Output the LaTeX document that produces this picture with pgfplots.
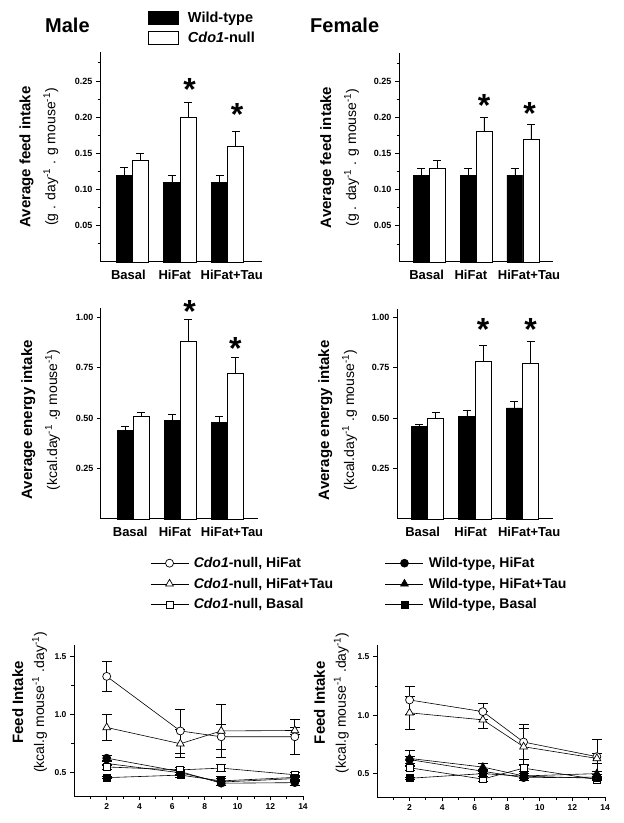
\documentclass[border=0pt]{standalone}
\usepackage{fontspec}
\setmainfont{Liberation Sans}
\usepackage{pgfplots}
\pgfplotsset{compat=1.18}
\newcommand\fsz[1]{\fontsize{#1}{#1}\selectfont}
\tikzset{starnode/.style={font=\fontsize{32}{32}\selectfont\bfseries, anchor=base, yshift=-17.5pt, inner sep=0pt}}
\pgfplotsset{
  common/.style={
    scale only axis, anchor=south west, clip=false,
    axis lines=left, axis line style={-, line width=1pt},
    tick align=outside, major tick length=4pt, minor tick length=2.5pt,
    every tick/.style={black, line width=0.8pt},
    /pgf/number format/assume math mode=true,
  },
  barax/.style={
    common,
    xmin=-0.68, xmax=2.72, ymin=0,
    xticklabels={Basal,HiFat,HiFat+Tau},
    x tick style={draw=none}, major x tick style={draw=none},
    xticklabel style={font=\fontsize{13}{14}\selectfont\bfseries, yshift=-1pt},
    yticklabel style={font=\fontsize{9}{10}\selectfont\bfseries, /pgf/number format/.cd, fixed, fixed zerofill, precision=2, assume math mode=true},
    ylabel style={align=center, font=\fontsize{14}{25}\selectfont, anchor=center},
  },
  barerr/.style={error bars/y dir=plus, error bars/y explicit,
    error bars/error mark=-,
    error bars/error bar style={line width=0.8pt, black},
    error bars/error mark options={rotate=90, mark size=4pt, line width=0.8pt, black}},
  wt/.style={ybar, bar shift=0pt, bar width=0.34, fill=black, draw=black, line width=0.8pt, barerr},
  ko/.style={ybar, bar shift=0pt, bar width=0.34, fill=white, draw=black, line width=0.8pt, barerr},
  lineax/.style={
    common,
    xmin=0, xmax=14, ymin=0.3, ymax=1.6,
    xtick={2,4,...,14}, minor xtick={1,3,...,13},
    ytick={0.5,1.0,1.5}, minor ytick={0.75,1.25},
    xticklabel style={font=\fontsize{8.5}{9}\selectfont\bfseries},
    yticklabel style={font=\fontsize{8.5}{9}\selectfont\bfseries, /pgf/number format/.cd, fixed, fixed zerofill, precision=1, assume math mode=true},
    ylabel style={align=center, font=\fontsize{14}{21}\selectfont, anchor=center},
  },
  ln/.style={black, line width=0.6pt, mark size=#1,
    error bars/y dir=both, error bars/y explicit,
    error bars/error mark=-,
    error bars/error bar style={line width=0.7pt, black},
    error bars/error mark options={rotate=90, mark size=5pt, line width=0.7pt, black}},
  opn/.style={mark options={fill=white, draw=black, solid, line width=0.7pt}},
  fld/.style={mark options={fill=black, draw=black, solid}},
}
\begin{document}
\begin{tikzpicture}
\useasboundingbox (0pt,0pt) rectangle (624pt,823pt);

\node[anchor=base west, font=\fsz{20}\bfseries, inner sep=0pt] at (45pt,790pt) {Male};
\node[anchor=base west, font=\fsz{20}\bfseries, inner sep=0pt] at (310pt,790pt) {Female};

% ---------------- top left
\begin{axis}[barax, at={(100pt,561pt)}, width=162pt, height=210pt, ymax=0.29,
  xtick={-0.085,0.89,2.085},
  ytick={0.05,0.10,...,0.26}, minor ytick={0.025,0.075,...,0.28},
  ylabel={{\fontsize{15}{25}\selectfont\bfseries Average feed intake}\\(g . day\textsuperscript{-1} . g mouse\textsuperscript{-1})},
  ylabel style={at={(axis description cs:-0.377,0.5)}},
  legend style={at={(0.296,1.2)}, anchor=north west, draw=none, fill=none, inner sep=0pt,
    font=\fontsize{14.5}{15}\selectfont\bfseries, row sep=4pt},
  legend cell align=left,
  legend image code/.code={\draw[#1, line width=0.8pt] (0pt,-6.5pt) rectangle (30pt,6.5pt); \path (37pt,0pt);},
]
\addplot[wt] coordinates {(-0.17,0.12) +- (0,0.01) (0.83,0.11) +- (0,0.01) (1.83,0.11) +- (0,0.01)};
\addplot[ko] coordinates {(0.17,0.14) +- (0,0.01) (1.17,0.20) +- (0,0.02) (2.17,0.16) +- (0,0.02)};
\legend{Wild-type, \textit{Cdo1}-null}
\node[starnode] at (axis cs:1.2,0.247) {*};
\node[starnode] at (axis cs:2.2,0.2125) {*};
\end{axis}

% ---------------- top right
\begin{axis}[barax, at={(399pt,561pt)}, width=154pt, height=209pt, ymax=0.289,
  xmin=-0.64, xmax=2.64, xtick={-0.05,0.89,2.13},
  ytick={0.05,0.10,...,0.26}, minor ytick={0.025,0.075,...,0.28},
  ylabel={{\fontsize{15}{25}\selectfont\bfseries Average feed intake}\\(g . day\textsuperscript{-1} . g mouse\textsuperscript{-1})},
  ylabel style={at={(axis description cs:-0.386,0.5)}},
]
\addplot[wt] coordinates {(-0.17,0.12) +- (0,0.01) (0.83,0.12) +- (0,0.01) (1.83,0.12) +- (0,0.01)};
\addplot[ko] coordinates {(0.17,0.13) +- (0,0.01) (1.17,0.18) +- (0,0.02) (2.17,0.17) +- (0,0.02)};
\node[starnode] at (axis cs:1.17,0.226) {*};
\node[starnode] at (axis cs:2.14,0.215) {*};
\end{axis}

% ---------------- middle left
\begin{axis}[barax, at={(101pt,304pt)}, width=157pt, height=211pt, ymax=1.045,
  xmax=2.65, xtick={-0.06,0.89,2.1},
  ytick={0.25,0.50,0.75,1.00},
  ylabel={{\fontsize{15}{25}\selectfont\bfseries Average energy intake}\\(kcal.day\textsuperscript{-1} .g mouse\textsuperscript{-1})},
  ylabel style={at={(axis description cs:-0.385,0.47)}},
]
\addplot[wt] coordinates {(-0.17,0.44) +- (0,0.02) (0.83,0.49) +- (0,0.03) (1.83,0.48) +- (0,0.03)};
\addplot[ko] coordinates {(0.17,0.51) +- (0,0.02) (1.17,0.88) +- (0,0.11) (2.17,0.72) +- (0,0.08)};
\node[starnode] at (axis cs:1.2,1.06) {*};
\node[starnode] at (axis cs:2.17,0.878) {*};
\end{axis}

% ---------------- middle right
\begin{axis}[barax, at={(397pt,304pt)}, width=156pt, height=210pt, ymax=1.04,
  xmin=-0.64, xmax=2.64, xtick={-0.1,0.91,2.14},
  ytick={0.25,0.50,0.75,1.00},
  ylabel={{\fontsize{15}{25}\selectfont\bfseries Average energy intake}\\(kcal.day\textsuperscript{-1} .g mouse\textsuperscript{-1})},
  ylabel style={at={(axis description cs:-0.38,0.47)}},
]
\addplot[wt] coordinates {(-0.17,0.46) +- (0,0.01) (0.83,0.51) +- (0,0.03) (1.83,0.55) +- (0,0.03)};
\addplot[ko] coordinates {(0.17,0.50) +- (0,0.03) (1.17,0.78) +- (0,0.08) (2.17,0.77) +- (0,0.11)};
\node[starnode] at (axis cs:1.17,0.97) {*};
\node[starnode] at (axis cs:2.17,0.97) {*};
\end{axis}

% ---------------- bottom left
\begin{axis}[lineax, at={(74pt,27pt)}, width=229pt, height=151pt,
  ylabel={{\fontsize{15}{21}\selectfont\bfseries Feed Intake}\\(kcal.g mouse\textsuperscript{-1} .day\textsuperscript{-1})},
  ylabel style={at={(axis description cs:-0.194,0.62)}},
  legend columns=2,
  legend style={at={(0.332,1.595)}, anchor=north west, draw=none, fill=none, inner sep=0pt,
    font=\fontsize{14}{14}\selectfont\bfseries, row sep=5pt,
    /tikz/every even column/.append style={column sep=50pt}},
  legend cell align=left,
  legend image code/.code={\draw[mark repeat=2,mark phase=2,#1] plot coordinates {(0pt,0pt) (19pt,0pt) (38pt,0pt)}; \path (41pt,0pt);},
]
\addplot[ln=4pt, opn, mark=*] coordinates {(2,1.33) +- (0,0.13) (6.5,0.86) +- (0,0.19) (9,0.81) +- (0,0.11) (13.5,0.81) +- (0,0.15)};
\addlegendentry{\textit{Cdo1}-null, HiFat}
\addplot[ln=4pt, fld, mark=*] coordinates {(2,0.626) +- (0,0.02) (6.5,0.51) +- (0,0.02) (9,0.41) +- (0,0.02) (13.5,0.415) +- (0,0.02)};
\addlegendentry{Wild-type, HiFat}
\addplot[ln=4.5pt, opn, mark=triangle*] coordinates {(2,0.89) +- (0,0.115) (6.5,0.75) +- (0,0.12) (9,0.86) +- (0,0.23) (13.5,0.864) +- (0,0.03)};
\addlegendentry{\textit{Cdo1}-null, HiFat+Tau}
\addplot[ln=4.5pt, fld, mark=triangle*] coordinates {(2,0.58) +- (0,0.02) (6.5,0.50) +- (0,0.02) (9,0.42) +- (0,0.03) (13.5,0.45) +- (0,0.02)};
\addlegendentry{Wild-type, HiFat+Tau}
\addplot[ln=3.5pt, opn, mark=square*] coordinates {(2,0.55) +- (0,0.02) (6.5,0.525) +- (0,0.02) (9,0.54) +- (0,0.03) (13.5,0.483) +- (0,0.02)};
\addlegendentry{\textit{Cdo1}-null, Basal}
\addplot[ln=3.5pt, fld, mark=square*] coordinates {(2,0.458) +- (0,0.01) (6.5,0.48) +- (0,0.02) (9,0.43) +- (0,0.04) (13.5,0.46) +- (0,0.02)};
\addlegendentry{Wild-type, Basal}
\end{axis}

% ---------------- bottom right
\begin{axis}[lineax, at={(377pt,26pt)}, width=228pt, height=152pt,
  ylabel={{\fontsize{15}{21}\selectfont\bfseries Feed Intake}\\(kcal.g mouse\textsuperscript{-1} .day\textsuperscript{-1})},
  ylabel style={at={(axis description cs:-0.2,0.62)}},
]
\addplot[ln=4pt, opn, mark=*] coordinates {(2,1.13) +- (0,0.12) (6.5,1.03) +- (0,0.07) (9,0.77) +- (0,0.15) (13.5,0.645) +- (0,0.15)};
\addplot[ln=4.5pt, opn, mark=triangle*] coordinates {(2,1.02) +- (0,0.14) (6.5,0.96) +- (0,0.07) (9,0.73) +- (0,0.16) (13.5,0.63) +- (0,0.04)};
\addplot[ln=4pt, fld, mark=*] coordinates {(2,0.62) +- (0,0.03) (6.5,0.52) +- (0,0.02) (9,0.465) +- (0,0.02) (13.5,0.47) +- (0,0.02)};
\addplot[ln=4.5pt, fld, mark=triangle*] coordinates {(2,0.63) +- (0,0.065) (6.5,0.556) +- (0,0.03) (9,0.48) +- (0,0.02) (13.5,0.50) +- (0,0.02)};
\addplot[ln=3.5pt, opn, mark=square*] coordinates {(2,0.55) +- (0,0.02) (6.5,0.453) +- (0,0.02) (9,0.547) +- (0,0.03) (13.5,0.45) +- (0,0.01)};
\addplot[ln=3.5pt, fld, mark=square*] coordinates {(2,0.46) +- (0,0.01) (6.5,0.50) +- (0,0.02) (9,0.478) +- (0,0.02) (13.5,0.46) +- (0,0.01)};
\end{axis}
\end{tikzpicture}
\end{document}
